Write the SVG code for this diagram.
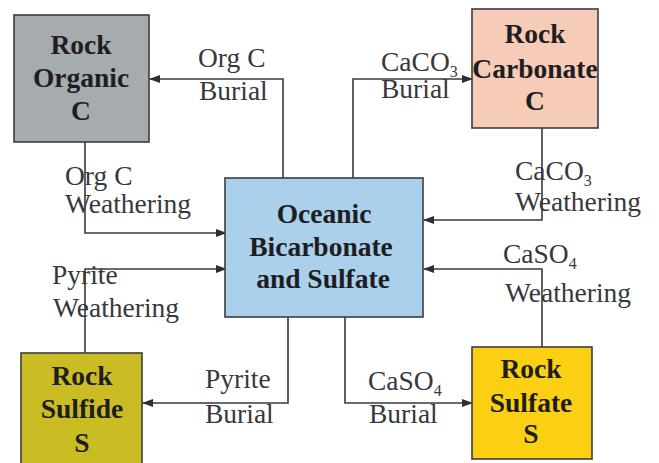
<svg xmlns="http://www.w3.org/2000/svg" width="659" height="463" viewBox="0 0 659 463">
<defs>
<marker id="arr" markerUnits="userSpaceOnUse" markerWidth="11" markerHeight="8" refX="10" refY="4" orient="auto">
<path d="M0,0 L11,4 L0,8 z" fill="#2e2e33"/>
</marker>
<style>
.box{stroke:#3c3c40;stroke-width:1.6}
.bt{font-family:"Liberation Serif",serif;font-weight:bold;font-size:27.5px;fill:#1e1e22;text-anchor:middle}
.lb{font-family:"Liberation Serif",serif;font-size:27.5px;fill:#38383c}
.sub{font-size:16px}
.c{fill:none;stroke:#3a3a3f;stroke-width:1.6;marker-end:url(#arr)}
</style>
</defs>
<rect width="659" height="463" fill="#ffffff"/>
<g id="connectors">
<path class="c" d="M283,178 V79 H150"/>
<path class="c" d="M85,142 V233 H226"/>
<path class="c" d="M353,178 V79 H472"/>
<path class="c" d="M542,128 V220 H424"/>
<path class="c" d="M85,353 V269 H226"/>
<path class="c" d="M288,317 V403 H143"/>
<path class="c" d="M542,347 V269 H424"/>
<path class="c" d="M345,317 V403 H472"/>
</g>
<g id="labels">
<text class="lb"><tspan x="198" y="67">Org C</tspan><tspan x="199" y="100">Burial</tspan></text>
<text class="lb"><tspan x="65" y="185">Org C</tspan><tspan x="65" y="213">Weathering</tspan></text>
<text class="lb"><tspan x="381" y="71">CaCO</tspan><tspan class="sub" dy="6">3</tspan><tspan x="381" y="98">Burial</tspan></text>
<text class="lb"><tspan x="515" y="180">CaCO</tspan><tspan class="sub" dy="6">3</tspan><tspan x="515" y="211">Weathering</tspan></text>
<text class="lb"><tspan x="52" y="284">Pyrite</tspan><tspan x="53" y="317">Weathering</tspan></text>
<text class="lb"><tspan x="205" y="388">Pyrite</tspan><tspan x="205" y="423">Burial</tspan></text>
<text class="lb"><tspan x="503" y="263">CaSO</tspan><tspan class="sub" dy="6">4</tspan><tspan x="505" y="302">Weathering</tspan></text>
<text class="lb"><tspan x="368" y="390">CaSO</tspan><tspan class="sub" dy="6">4</tspan><tspan x="369" y="423">Burial</tspan></text>
</g>
<g id="rock-organic-c">
<rect class="box" x="14" y="15" width="135" height="127" fill="#a6abb0"/>
<text class="bt"><tspan x="81" y="54">Rock</tspan><tspan x="81" y="87">Organic</tspan><tspan x="81" y="120">C</tspan></text>
</g>
<g id="rock-carbonate-c">
<rect class="box" x="472" y="9" width="126" height="119" fill="#f6cbb7"/>
<text class="bt"><tspan x="535" y="43">Rock</tspan><tspan x="535" y="78">Carbonate</tspan><tspan x="535" y="110">C</tspan></text>
</g>
<g id="oceanic">
<rect class="box" x="225" y="178" width="198" height="139" fill="#aad0ec"/>
<text class="bt"><tspan x="324" y="223">Oceanic</tspan><tspan x="321" y="256">Bicarbonate</tspan><tspan x="323" y="288">and Sulfate</tspan></text>
</g>
<g id="rock-sulfide-s">
<rect class="box" x="21" y="353" width="121" height="115" fill="#cabd24"/>
<text class="bt"><tspan x="82" y="385">Rock</tspan><tspan x="82" y="418">Sulfide</tspan><tspan x="82" y="452">S</tspan></text>
</g>
<g id="rock-sulfate-s">
<rect class="box" x="472" y="347" width="120" height="112" fill="#fbcf12"/>
<text class="bt"><tspan x="531" y="378">Rock</tspan><tspan x="531" y="412">Sulfate</tspan><tspan x="531" y="443">S</tspan></text>
</g>
</svg>
